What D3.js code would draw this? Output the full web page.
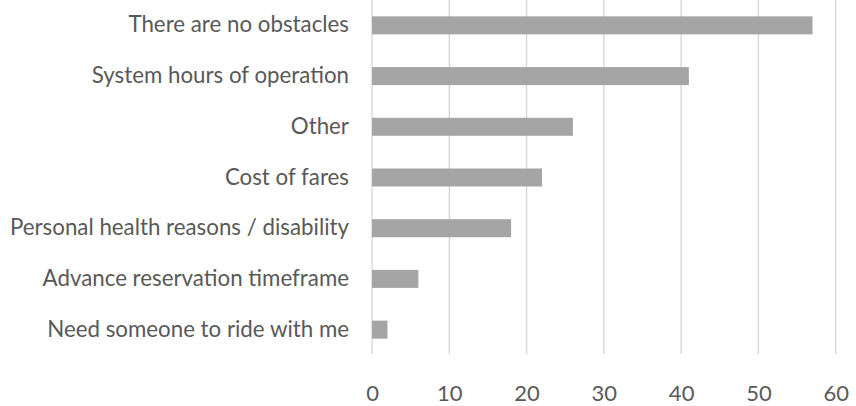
<!DOCTYPE html>
<html>
<head>
<meta charset="utf-8">
<script src="https://cdn.jsdelivr.net/npm/d3@7"></script>
<style>
  html, body { margin: 0; padding: 0; background: #fff; }
  svg { display: block; }
</style>
</head>
<body>
<svg id="chart" width="856" height="406"></svg>
<script>
// Reported obstacles to using the service (number of responses)
const categories = [
  "There are no obstacles",
  "System hours of operation",
  "Other",
  "Cost of fares",
  "Personal health reasons / disability",
  "Advance reservation timeframe",
  "Need someone to ride with me"
];
const counts = [57, 41, 26, 22, 18, 6, 2];
const xTicks = [0, 10, 20, 30, 40, 50, 60];

const svg = d3.select("#chart");
const margin = { top: 0, right: 20, bottom: 51, left: 372 };
const width = 856;
const height = 406;

const x = d3.scaleLinear()
  .domain([0, 60])
  .range([margin.left, 835.7]);

const y = d3.scaleBand()
  .domain(categories)
  .range([margin.top, height - margin.bottom])
  .paddingInner(0.645)
  .paddingOuter(0.3225);

// Vertical gridlines
svg.append("g")
  .selectAll("line")
  .data(xTicks)
  .join("line")
  .attr("x1", d => x(d))
  .attr("x2", d => x(d))
  .attr("y1", margin.top)
  .attr("y2", height - margin.bottom - 1)
  .attr("stroke", "#d9d9d9")
  .attr("stroke-width", 1.4);

// Bars
svg.append("g")
  .selectAll("rect")
  .data(categories)
  .join("rect")
  .attr("x", x(0))
  .attr("y", d => y(d))
  .attr("width", (d, i) => x(counts[i]) - x(0))
  .attr("height", y.bandwidth())
  .attr("fill", "#a5a5a5");

// Category labels
const yAxis = d3.axisLeft(y).tickSize(0).tickPadding(23);
svg.append("g")
  .attr("transform", `translate(${x(0)},0)`)
  .call(yAxis)
  .call(g => g.select(".domain").remove())
  .call(g => g.selectAll("text")
    .attr("fill", "#595959")
    .style("font-family", "Lato, 'Open Sans', sans-serif")
    .style("font-size", "22.3px"));

// Value axis labels
const xAxis = d3.axisBottom(x).tickValues(xTicks).tickSize(0).tickPadding(0);
svg.append("g")
  .attr("transform", `translate(0,${height - margin.bottom})`)
  .call(xAxis)
  .call(g => g.select(".domain").remove())
  .call(g => g.selectAll("text")
    .attr("fill", "#595959")
    .attr("dy", null)
    .attr("y", 46)
    .style("font-family", "Lato, 'Open Sans', sans-serif")
    .style("font-size", "22px"));
</script>
</body>
</html>
